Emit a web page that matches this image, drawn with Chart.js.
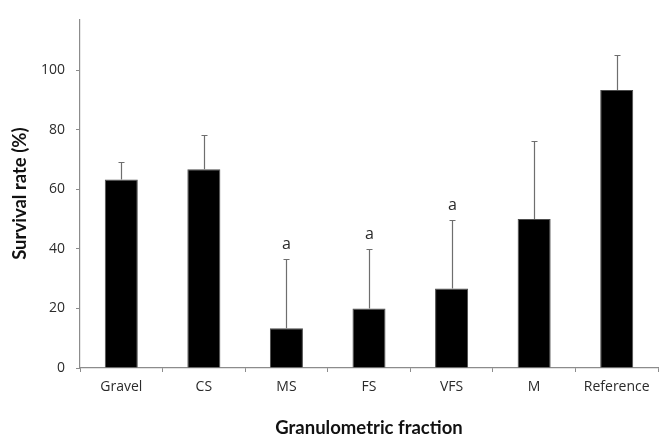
<!DOCTYPE html>
<html lang="en">
<head>
    <meta charset="UTF-8">
    <title>Survival rate by granulometric fraction</title>
    <style>
        html, body {
            margin: 0;
            padding: 0;
            background-color: white;
        }
        #wrap {
            width: 659px;
            height: 439px;
        }
    </style>
    <script src="https://cdn.jsdelivr.net/npm/chart.js"></script>
</head>
<body>
    <div id="wrap"><canvas id="myChart"></canvas></div>

    <script>
        // chart data
        const fractions = ['Gravel', 'CS', 'MS', 'FS', 'VFS', 'M', 'Reference'];
        const survival = [63.3, 66.7, 13.3, 20.0, 26.7, 50.0, 93.3];
        const errorTop = [69.3, 78.3, 36.6, 40.1, 49.8, 76.1, 105.0];
        const letters = ['', '', 'a', 'a', 'a', '', ''];
        const yTicks = [0, 20, 40, 60, 80, 100];

        const axisGrey = '#8c8c8c';
        const textColor = '#2b2b2b';

        // error bars and letters above the bars
        const errorBarPlugin = {
            id: 'errorBars',
            afterDatasetsDraw(chart) {
                const ctx = chart.ctx;
                const x = chart.scales.x;
                const y = chart.scales.y;
                ctx.save();
                ctx.strokeStyle = '#6e6e6e';
                ctx.lineWidth = 1.2;
                fractions.forEach((f, i) => {
                    const cx = Math.round(x.getPixelForValue(i)) + 0.5;
                    const y0 = y.getPixelForValue(survival[i]);
                    const y1 = Math.round(y.getPixelForValue(errorTop[i])) + 0.5;
                    ctx.beginPath();
                    ctx.moveTo(cx, y0);
                    ctx.lineTo(cx, y1);
                    ctx.moveTo(cx - 3, y1);
                    ctx.lineTo(cx + 3, y1);
                    ctx.stroke();
                    if (letters[i]) {
                        ctx.fillStyle = textColor;
                        ctx.font = '16px "Open Sans"';
                        ctx.textAlign = 'center';
                        ctx.textBaseline = 'bottom';
                        ctx.fillText(letters[i], cx, y1 - 7);
                    }
                });
                ctx.restore();
            }
        };

        const ctx = document.getElementById('myChart').getContext('2d');
        const myChart = new Chart(ctx, {
            type: 'bar',
            data: {
                labels: fractions,
                datasets: [{
                    label: 'Survival rate',
                    data: survival,
                    backgroundColor: '#000000',
                    borderColor: '#4d4d4d',
                    borderWidth: 1,
                    barPercentage: 0.4,
                    categoryPercentage: 1.0
                }]
            },
            options: {
                responsive: true,
                maintainAspectRatio: false,
                animation: false,
                layout: {
                    padding: { top: 15, right: 1, left: 0, bottom: 0 }
                },
                plugins: {
                    legend: { display: false },
                    tooltip: { enabled: false }
                },
                scales: {
                    x: {
                        grid: {
                            drawOnChartArea: false,
                            drawTicks: true,
                            tickLength: 4,
                            color: axisGrey,
                            offset: true
                        },
                        border: { color: axisGrey, width: 1.2 },
                        ticks: {
                            color: textColor,
                            padding: 7,
                            font: { family: '"Open Sans"', size: 14 }
                        },
                        title: {
                            display: true,
                            text: 'Granulometric fraction',
                            color: '#111',
                            padding: { top: 0, bottom: 0 },
                            font: { family: 'Lato', size: 18.5, weight: 'bold' }
                        },
                        afterFit(axis) {
                            axis.height = 71;
                        }
                    },
                    y: {
                        min: 0,
                        max: 117,
                        afterBuildTicks(axis) {
                            axis.ticks = yTicks.map(v => ({ value: v }));
                        },
                        grid: {
                            drawOnChartArea: false,
                            drawTicks: true,
                            tickLength: 4,
                            color: axisGrey
                        },
                        border: { color: axisGrey, width: 1.2 },
                        ticks: {
                            color: textColor,
                            padding: 11,
                            font: { family: '"Open Sans"', size: 14 }
                        },
                        title: {
                            display: true,
                            text: 'Survival rate (%)',
                            color: '#111',
                            padding: { top: 9, bottom: 0 },
                            font: { family: 'Lato', size: 18.5, weight: 'bold' }
                        },
                        afterFit(axis) {
                            axis.width = 80;
                        }
                    }
                }
            },
            plugins: [errorBarPlugin]
        });
    </script>
</body>
</html>
